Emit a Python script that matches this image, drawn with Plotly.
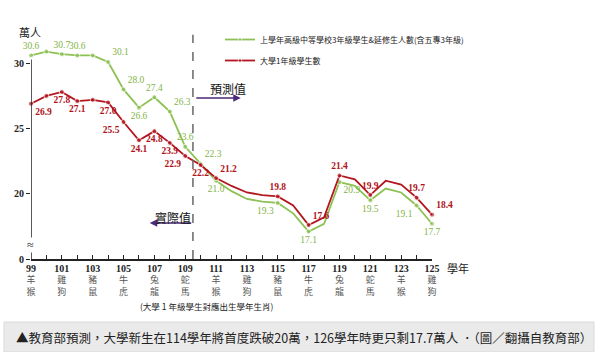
import plotly.graph_objects as go

years = list(range(99, 126))
senior = [30.6, 30.9, 30.7, 30.6, 30.6, 30.1, 28.0, 26.6, 27.4, 26.3, 23.6,
          22.3, 21.0, 20.2, 19.6, 19.4, 19.3, 18.5, 17.1, 17.7, 20.9, 20.6,
          19.5, 20.4, 20.1, 19.1, 17.7]
freshmen = [26.9, 27.5, 27.8, 27.1, 27.2, 27.0, 25.5, 24.1, 24.8, 23.9, 22.9,
            22.2, 21.2, 20.6, 20.1, 19.9, 19.8, 19.1, 17.6, 18.2, 21.4, 21.1,
            19.9, 21.0, 20.7, 19.7, 18.4]
labeled_years = [99, 101, 102, 104, 105, 106, 107, 108, 109, 110, 111, 115,
                 117, 119, 121, 124, 125]
last_actual = 109
tick_years = list(range(99, 126, 2))
zodiac = ["羊猴", "雞狗", "豬鼠", "牛虎", "兔龍", "蛇馬", "羊猴", "雞狗",
          "豬鼠", "牛虎", "兔龍", "蛇馬", "羊猴", "雞狗"]
senior_name = "上學年高級中等學校3年級學生&延修生人數(含五專3年級)"
fresh_name = "大學1年級學生數"

# label placement (style)
senior_pos = {99: "top center", 101: "top center", 102: "top center", 104: "top right",
              105: "top right", 106: "bottom center", 107: "top center", 108: "top right",
              109: "top center", 110: "top right", 111: "bottom center", 115: "bottom left",
              117: "bottom center", 119: "bottom right", 121: "bottom center",
              124: "bottom left", 125: "bottom center"}
fresh_pos = {99: "bottom right", 101: "bottom center", 102: "bottom center", 104: "bottom center",
             105: "bottom left", 106: "bottom center", 107: "bottom center", 108: "bottom center",
             109: "bottom left", 110: "bottom center", 111: "top right", 115: "top center",
             117: "top right", 119: "top center", 121: "top center", 124: "top center",
             125: "top right"}

GREEN = "#8DC153"
GREEN_TXT = "#7FB446"
RED = "#B3161E"
RED_TXT = "#B0121A"
SERIF = "Liberation Serif"
CJK = "Noto Sans CJK TC"


def texts(vals):
    return [f"{v:.1f}" if y in labeled_years else "" for y, v in zip(years, vals)]


def sizes():
    return [5 if (y <= last_actual or y in labeled_years) else 0 for y in years]


def positions(d):
    return [d.get(y, "top center") for y in years]


fig = go.Figure()
fig.add_trace(go.Scatter(
    x=years, y=senior, name=senior_name, legendgroup="a",
    mode="lines+markers+text", text=texts(senior), textposition=positions(senior_pos),
    textfont=dict(family=SERIF, size=9.5, color=GREEN_TXT),
    line=dict(color=GREEN, width=1.8), marker=dict(color=GREEN, size=sizes()),
    cliponaxis=False))
fig.add_trace(go.Scatter(
    x=years, y=freshmen, name=fresh_name, legendgroup="b",
    mode="lines+markers+text", text=texts(freshmen), textposition=positions(fresh_pos),
    textfont=dict(family=SERIF, size=9.5, color=RED_TXT, weight="bold"),
    line=dict(color=RED, width=1.8), marker=dict(color=RED, size=sizes()),
    cliponaxis=False))

ticktext = []
tickvals = years
for y in years:
    if y in tick_years:
        z = zodiac[tick_years.index(y)]
        ticktext.append(f"<span style='font-size:10px'><b>{y}</b></span>"
                        f"<br><span style='font-family:{CJK};color:#555'>{z[0]}</span>"
                        f"<br><span style='font-family:{CJK};color:#555'>{z[1]}</span>")
    else:
        ticktext.append("")

x_l, x_r = 31 / 600, 432 / 600
fig.update_layout(
    template="none",
    width=600, height=352, margin=dict(l=0, r=0, t=0, b=0, pad=0, autoexpand=False),
    paper_bgcolor="white", plot_bgcolor="white",
    font=dict(family=SERIF, color="#222"),
    showlegend=True,
    legend=dict(x=220 / 600, y=1 - 25 / 352, xanchor="left", yanchor="top",
                font=dict(family=CJK, size=8, color="#222"), itemwidth=30,
                tracegroupgap=2, bgcolor="rgba(0,0,0,0)"),
    xaxis=dict(domain=[x_l, x_r], range=[99, 125], tickvals=tickvals, ticktext=ticktext,
               ticks="inside", ticklen=4, tickcolor="#222", showline=True, linecolor="#222",
               linewidth=1.5, showgrid=False, zeroline=False, automargin=False,
               tickfont=dict(family=SERIF, size=9, color="#222")),
    yaxis=dict(domain=[93 / 352, 1 - 34.6 / 352], range=[15, 32.2],
               tickvals=[15, 20, 25, 30], ticktext=["<b>0</b>", "<b>20</b>", "<b>25</b>", "<b>30</b>"],
               ticks="outside", ticklen=4, tickcolor="#222", showline=False, showgrid=False,
               zeroline=False, automargin=False, tickfont=dict(family=SERIF, size=10, color="#222")),
)

# y-axis line (drawn up to just above 30)
fig.add_shape(type="line", xref="x", yref="y", x0=99, x1=99, y0=15, y1=30.3,
              line=dict(color="#222", width=1.5))
# boundary between actual and forecast
fig.add_shape(type="line", xref="x", yref="y", x0=last_actual + 0.5, x1=last_actual + 0.5,
              y0=15, y1=32.2, line=dict(color="#666", width=1.5, dash="dash"))

ARROW = "#4B2A7B"
fig.add_annotation(x=112.6, y=27.35, ax=-46, ay=0, xref="x", yref="y", text="",
                   showarrow=True, arrowhead=2, arrowsize=1, arrowwidth=1.5, arrowcolor=ARROW)
fig.add_annotation(x=111.8, y=28.05, xref="x", yref="y", text="預測值", showarrow=False,
                   xanchor="center", yanchor="middle",
                   font=dict(family=CJK, size=12, color="#111"))
fig.add_annotation(x=106.7, y=17.75, ax=43, ay=0, xref="x", yref="y", text="",
                   showarrow=True, arrowhead=2, arrowsize=1, arrowwidth=1.5, arrowcolor=ARROW)
fig.add_annotation(x=108.2, y=18.2, xref="x", yref="y", text="實際值", showarrow=False,
                   xanchor="center", yanchor="middle",
                   font=dict(family=CJK, size=12, color="#111"))


def paper_text(px, py, text, size, family=CJK, **kw):
    fig.add_annotation(x=px / 600, y=1 - py / 352, xref="paper", yref="paper", text=text,
                       showarrow=False, xanchor=kw.pop("xanchor", "center"), yanchor="middle",
                       font=dict(family=family, size=size, color="#222"), **kw)


# axis break symbol
paper_text(30, 245, "≈", 12, family=SERIF, bgcolor="white", borderpad=0)
# units / notes
paper_text(30, 32, "萬人", 11)
paper_text(458, 268, "學年", 11)
paper_text(206, 306, "(大學 1 年級學生對應出生學年生肖)", 8.5)

# caption band
fig.add_shape(type="rect", xref="paper", yref="paper", x0=4 / 600, x1=594 / 600,
              y0=0, y1=(352 - 322) / 352, fillcolor="#EAEAEA", line=dict(color="#DADADA", width=1),
              layer="below")
paper_text(14, 337, "▲教育部預測，大學新生在114學年將首度跌破20萬，126學年時更只剩17.7萬人 ．（圖／翻攝自教育部）",
           12.5, xanchor="left")

fig.write_html("out.html")
